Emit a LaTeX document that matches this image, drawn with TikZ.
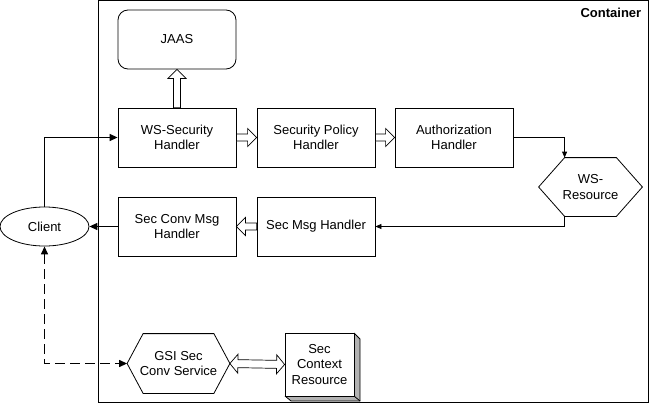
\documentclass[tikz,border=0pt]{standalone}
\usepackage{fontspec}
\setmainfont{Liberation Sans}
\usetikzlibrary{arrows.meta,shapes.geometric,calc}
\newcommand{\hollowarrow}[2]{%
  \draw[hollowline] let \p1=(#1), \p2=(#2),
    \n1={atan2(\y2-\y1,\x2-\x1)}, \n2={veclen(\x2-\x1,\y2-\y1)} in
    [shift={(\p1)}, rotate=\n1]
    (0,-3.5) -- ({\n2-9},-3.5) -- ({\n2-9},-9) -- (\n2,0) -- ({\n2-9},9) -- ({\n2-9},3.5) -- (0,3.5) -- cycle;}
\newcommand{\hollowdouble}[2]{%
  \draw[hollowline] let \p1=(#1), \p2=(#2),
    \n1={atan2(\y2-\y1,\x2-\x1)}, \n2={veclen(\x2-\x1,\y2-\y1)} in
    [shift={(\p1)}, rotate=\n1]
    (0,0) -- (8,-9.5) -- (8,-4) -- ({\n2-8},-4) -- ({\n2-8},-9.5) -- (\n2,0) -- ({\n2-8},9.5) -- ({\n2-8},4) -- (8,4) -- (8,9.5) -- cycle;}
\begin{document}
\begin{tikzpicture}[x=1pt,y=-1pt, line width=0.8pt,
  font=\fontsize{13}{15.3}\selectfont,
  box/.style={draw, rectangle, minimum width=118pt, minimum height=59pt, align=center, inner sep=0pt},
  hexnode/.style={rectangle, align=center, inner sep=0pt},
  arr/.style={line width=1.3pt, -{Triangle[length=8pt,width=7pt]}},
  darr/.style={line width=1.2pt, {Triangle[length=8pt,width=7pt]}-{Triangle[length=8pt,width=7pt]}},
  sarr/.style={-{Triangle[length=6pt,width=5pt]}},
  hollowline/.style={draw, fill=white, line width=0.7pt}]
\useasboundingbox (0,0) rectangle (650,404);
% container
\draw (98.5,0.8) rectangle (648,402);
\node[anchor=east, font=\fontsize{13}{15.3}\selectfont\bfseries] (cont) at (645,12.5) {Container};
% nodes
\node[box, rounded corners=10pt] (jaas) at (177,39.5) {JAAS};
\node[box] (wss) at (177,137.5) {WS-Security\\Handler};
\node[box] (spol) at (316,137.5) {Security Policy\\Handler};
\node[box] (authz) at (454,137.5) {Authorization\\Handler};
\node[box] (scm) at (177,226.5) {Sec Conv Msg\\Handler};
\node[box] (smh) at (316,226.5) {Sec Msg Handler};
\node[draw, ellipse, minimum width=89pt, minimum height=39pt, inner sep=0pt] (client) at (44.5,226.5) {Client};
\node[hexnode, minimum width=103pt, minimum height=58pt] (wsr) at (590.5,187) {WS-\\Resource};
\node[hexnode, minimum width=102pt, minimum height=59pt] (gsi) at (178.5,363.5) {GSI Sec\\Conv Service};
% WS-Resource hexagon
\coordinate (wsrtl) at ([xshift=26pt]wsr.north west);
\coordinate (wsrbl) at ([xshift=26pt]wsr.south west);
\draw (wsr.west) -- (wsrtl) -- ([xshift=-26pt]wsr.north east) -- (wsr.east)
  -- ([xshift=-26pt]wsr.south east) -- (wsrbl) -- cycle;
% GSI hexagon
\draw (gsi.west) -- ([xshift=16pt]gsi.north west) -- ([xshift=-16pt]gsi.north east) -- (gsi.east)
  -- ([xshift=-16pt]gsi.south east) -- ([xshift=16pt]gsi.south west) -- cycle;
% Sec Context Resource (3D box)
\fill[gray!60] (354,333) -- (360,339) -- (360,401) -- (291,401) -- (285,396) -- (354,396) -- cycle;
\draw (354,333) -- (360,339) -- (360,401) -- (291,401) -- (285,396);
\draw (354,396) -- (360,401);
\node[draw, fill=white, rectangle, minimum width=69pt, minimum height=63pt, inner sep=0pt, align=center] (ctx) at (319.5,364.5) {Sec\\Context\\Resource};
% connectors
\draw[arr] (client.north) |- (wss.west);
\draw[arr] (scm.west) -- (client.east);
\draw[sarr] (authz.east) -| (wsrtl);
\draw[sarr] (wsrbl) |- (smh.east);
\draw[darr, dash pattern=on 10pt off 5pt] (client.south) |- (gsi.west);
% hollow arrows
\hollowarrow{wss.north}{jaas.south}
\hollowarrow{wss.east}{spol.west}
\hollowarrow{spol.east}{authz.west}
\hollowarrow{smh.west}{scm.east}
\hollowdouble{gsi.east}{ctx.west}
\end{tikzpicture}
\end{document}
